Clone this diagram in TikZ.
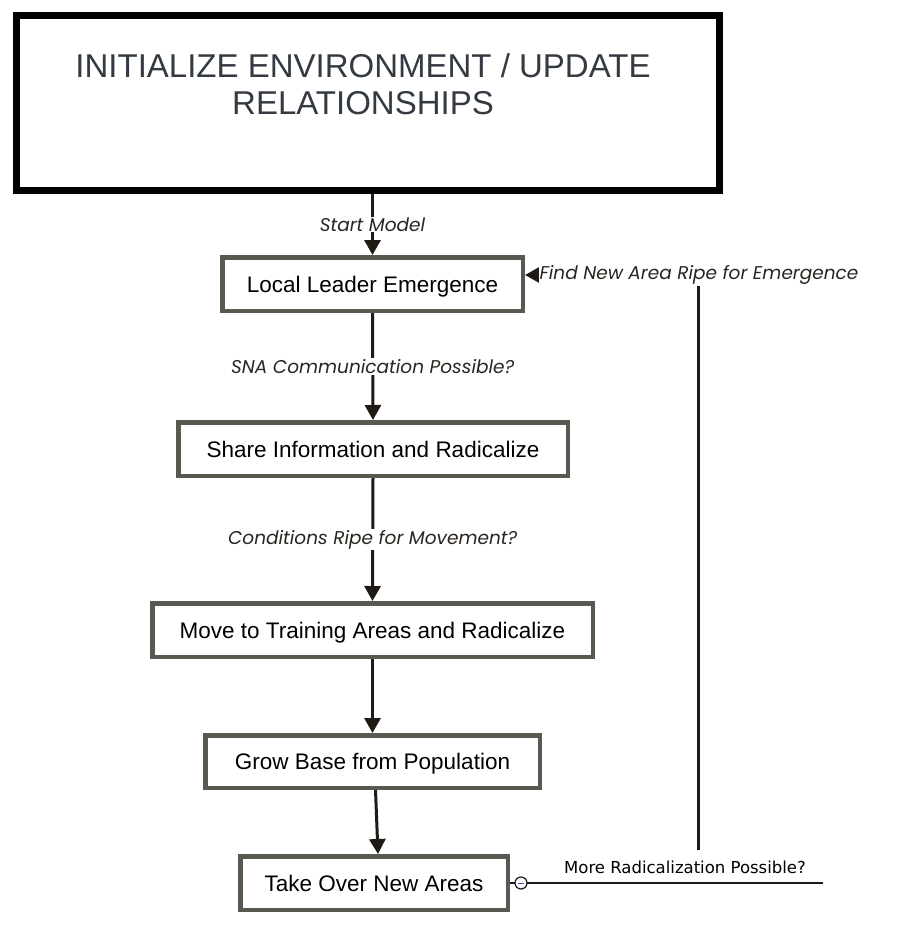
\documentclass[tikz,border=0pt]{standalone}
\usepackage{fontspec}
\setmainfont{Liberation Sans}
\newfontfamily\titlefont{Liberation Sans}
\newfontfamily\boxfont{Liberation Sans}
\newfontfamily\labfont{Poppins}
\newfontfamily\verdfont{DejaVu Sans}
\usetikzlibrary{arrows.meta}
\definecolor{boxgray}{HTML}{575A50}
\definecolor{arrowc}{HTML}{1F1A14}
\definecolor{titlec}{HTML}{343A42}
\definecolor{labc}{HTML}{2A2520}
\begin{document}
\begin{tikzpicture}[x=1pt,y=-1pt,
  stepbox/.style={draw=boxgray, line width=4.5pt, fill=white, inner sep=0pt, text=black,
    text height=16.2pt, text depth=0pt,
    font=\boxfont\fontsize{22.5}{26}\selectfont},
  flow/.style={draw=arrowc, line width=3pt, -{Triangle[width=16pt,length=15pt]}},
  lab/.style={fill=white, inner sep=1pt, text=labc, font=\labfont\itshape\fontsize{18.5}{22}\selectfont}]
\useasboundingbox (0,0) rectangle (902,938);
\node[draw=black, line width=7pt, minimum width=703pt, minimum height=175pt, inner sep=0pt] (init) at (367.5,103) {};
\node[text=titlec, align=center, font=\titlefont\fontsize{33}{37}\selectfont] (title) at (363,84)
  {INITIALIZE ENVIRONMENT / UPDATE\\RELATIONSHIPS};
\node[stepbox, minimum width=300.5pt, minimum height=53.5pt] (ll) at (372.5,284) {Local Leader Emergence};
\node[stepbox, minimum width=389.5pt, minimum height=53.5pt] (si) at (373,449) {Share Information and Radicalize};
\node[stepbox, minimum width=440.5pt, minimum height=53.5pt] (mt) at (372.5,630) {Move to Training Areas and Radicalize};
\node[stepbox, minimum width=334.5pt, minimum height=52.5pt] (gb) at (372.5,761.5) {Grow Base from Population};
\node[stepbox, minimum width=267.5pt, minimum height=53.5pt] (tob) at (374,883) {Take Over New Areas};
\draw[flow] (ll.north |- init.south) -- node[lab] {Start Model} (ll.north);
\draw[flow] (ll.south) -- node[lab] {SNA Communication Possible?} (si.north);
\draw[flow] (si.south) -- node[lab, pos=0.5] {Conditions Ripe for Movement?} (mt.north);
\draw[flow] (mt.south) -- (gb.north);
\draw[flow] ([xshift=3pt]gb.south) -- ([xshift=4pt]tob.north);
\coordinate (fb) at (698,850);
\coordinate (fc) at (698,275);
\draw[flow] (fb) -- (fc) -- (fc -| ll.east);
\node[lab] (fl) at (699,275) {Find New Area Ripe for Emergence};
\coordinate (mr) at (823,883);
\draw[arrowc, line width=1.5pt] (tob.east) -- (mr);
\node[circle, draw=arrowc, line width=1.2pt, fill=white, minimum size=12pt, inner sep=0pt] (knob) at (521,883) {};
\draw[blue!40!gray, line width=1pt] ([xshift=-3pt]knob.center) -- ([xshift=3pt]knob.center);
\node[text=black, font=\verdfont\fontsize{16.5}{19}\selectfont] (mrl) at (685,867) {More Radicalization Possible?};
\end{tikzpicture}
\end{document}
